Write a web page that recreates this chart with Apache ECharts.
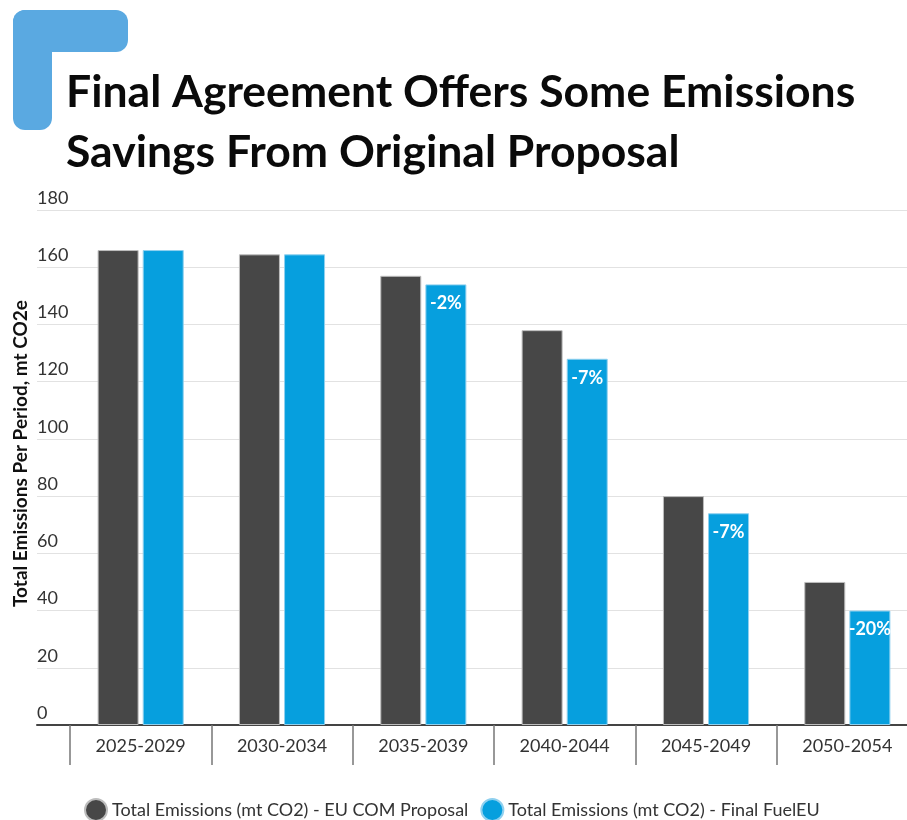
<!DOCTYPE html>
<html>
<head>
<meta charset="utf-8">
<script src="https://cdn.jsdelivr.net/npm/echarts@6/dist/echarts.min.js"></script>
<style>
  html, body { margin: 0; padding: 0; background: #fff; overflow: hidden; }
  #main { width: 918px; height: 820px; }
</style>
</head>
<body>
<div id="main"></div>
<script type="text/javascript">
// data
var periods = ['2025-2029', '2030-2034', '2035-2039', '2040-2044', '2045-2049', '2050-2054'];
var comProposal = [166, 164.5, 157, 138, 80, 50];
var finalFuelEU = [166, 164.5, 154, 128, 74, 40];
var savingLabels = ['', '', '-2%', '-7%', '-7%', '-20%'];
var seriesNames = ['Total Emissions (mt CO2) - EU COM Proposal', 'Total Emissions (mt CO2) - Final FuelEU'];

var fontFam = 'Lato, "Open Sans", sans-serif';
// chart is slightly wider than the window: the last category runs past the right edge in the original
var myChart = echarts.init(document.getElementById('main'));

var option = {
    backgroundColor: '#fff',
    animation: false,
    title: {
        text: 'Final Agreement Offers Some Emissions\nSavings From Original Proposal',
        left: 66,
        top: 63,
        padding: 0,
        textStyle: {
            fontFamily: fontFam,
            fontWeight: 'bold',
            fontSize: 44.5,
            lineHeight: 60,
            color: '#0a0a0a'
        }
    },
    graphic: [
        { type: 'rect', left: 13, top: 10, shape: { width: 39, height: 120, r: [12, 0, 12, 12] }, style: { fill: '#5aa9e1' } },
        { type: 'rect', left: 13, top: 10, shape: { width: 115, height: 42, r: [12, 12, 12, 0] }, style: { fill: '#5aa9e1' } }
    ],
    legend: {
        bottom: -2,
        left: 84,
        padding: 0,
        icon: 'circle',
        itemWidth: 22,
        itemHeight: 22,
        itemGap: 12,
        textStyle: { fontFamily: fontFam, fontSize: 18, color: '#333' },
        data: seriesNames
    },
    grid: [
        { left: 70, right: 0, top: 210, bottom: 95 },
        { left: 37, width: 33, top: 210, bottom: 95 }
    ],
    xAxis: [
        {
            type: 'category',
            gridIndex: 0,
            data: periods,
            axisLine: { lineStyle: { color: '#444', width: 2 } },
            axisTick: { show: true, length: 40, lineStyle: { color: '#777', width: 1.5 } },
            axisLabel: { fontFamily: fontFam, fontSize: 18, color: '#333', margin: 12 }
        },
        {
            type: 'value',
            gridIndex: 1,
            min: 0,
            max: 1,
            axisLine: { show: true, lineStyle: { color: '#444', width: 2 } },
            axisTick: { show: false },
            axisLabel: { show: false },
            splitLine: { show: false }
        }
    ],
    yAxis: [
        {
            type: 'value',
            gridIndex: 0,
            min: 0,
            max: 180,
            interval: 20,
            axisLine: { show: false },
            axisTick: { show: false },
            axisLabel: { show: false },
            splitLine: { lineStyle: { color: '#e2e2e2', width: 1 } }
        },
        {
            type: 'value',
            gridIndex: 1,
            min: 0,
            max: 180,
            interval: 20,
            name: 'Total Emissions Per Period, mt CO2e',
            nameLocation: 'middle',
            nameGap: 7,
            nameTextStyle: { fontFamily: fontFam, fontWeight: 'bold', fontSize: 19, color: '#111', padding: [0, 0, 0, 28] },
            axisLine: { show: false },
            axisTick: { show: false },
            axisLabel: {
                inside: true,
                margin: 0,
                align: 'left',
                verticalAlign: 'bottom',
                padding: [0, 0, 3, 0],
                fontFamily: fontFam,
                fontSize: 18,
                color: '#333'
            },
            splitLine: { lineStyle: { color: '#e2e2e2', width: 1 } }
        }
    ],
    series: [
        {
            name: seriesNames[0],
            type: 'bar',
            xAxisIndex: 0,
            yAxisIndex: 0,
            data: comProposal,
            barWidth: 41,
            barGap: '10%',
            itemStyle: { color: '#474747', borderColor: '#bdbdbd', borderWidth: 1 }
        },
        {
            name: seriesNames[1],
            type: 'bar',
            xAxisIndex: 0,
            yAxisIndex: 0,
            data: finalFuelEU,
            barWidth: 41,
            itemStyle: { color: '#069fde', borderColor: '#8fd0ef', borderWidth: 1 },
            label: {
                show: true,
                position: 'insideTop',
                distance: 10,
                fontFamily: fontFam,
                fontWeight: 'bold',
                fontSize: 18,
                color: '#fff',
                formatter: function (p) { return savingLabels[p.dataIndex]; }
            }
        }
    ]
};
myChart.setOption(option);
</script>
</body>
</html>
